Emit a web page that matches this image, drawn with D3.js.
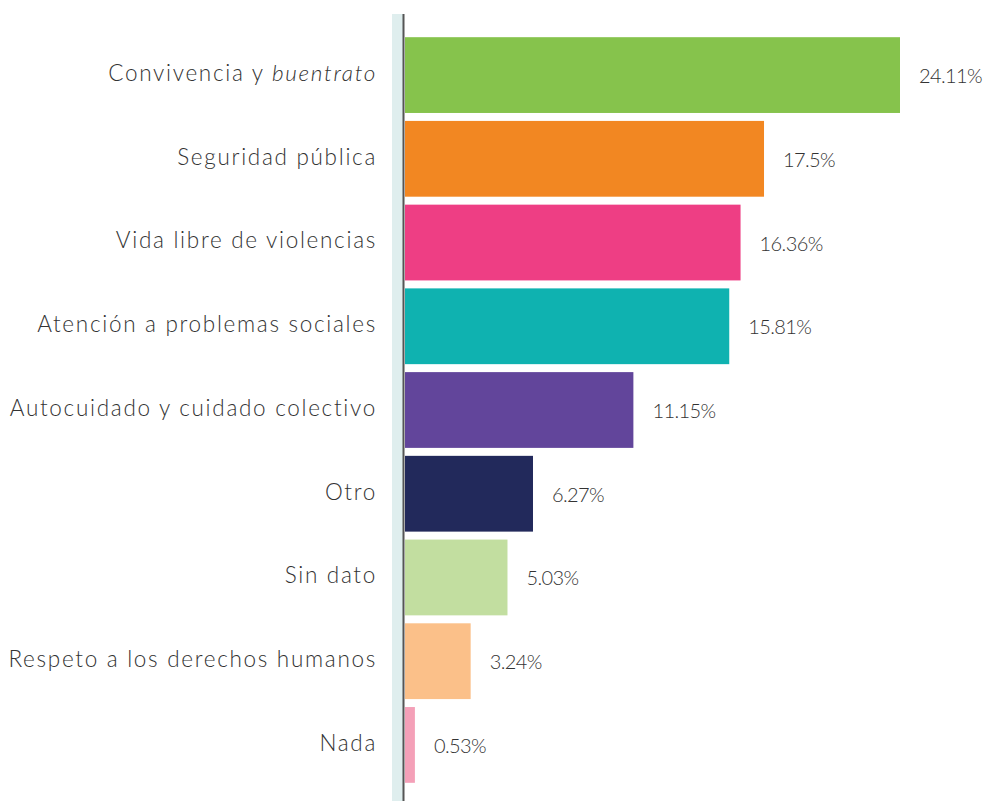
<!DOCTYPE html>
<html>
<head>
<meta charset="utf-8">
<script src="https://cdn.jsdelivr.net/npm/d3@7"></script>
<style>
	body{ margin:0; background:#fff; }
	text{ font-family: Lato, "Open Sans", sans-serif; font-weight:300; fill:#333; }
</style>
</head>
<body>
<svg id="chart" width="991" height="801"></svg>
<script>
var categories = ["Convivencia y buentrato", "Seguridad pública", "Vida libre de violencias", "Atención a problemas sociales", "Autocuidado y cuidado colectivo", "Otro", "Sin dato", "Respeto a los derechos humanos", "Nada"];
var values = [24.11, 17.5, 16.36, 15.81, 11.15, 6.27, 5.03, 3.24, 0.53];
var valueLabels = ["24.11%", "17.5%", "16.36%", "15.81%", "11.15%", "6.27%", "5.03%", "3.24%", "0.53%"];
var colors = ["#86c34c", "#f28722", "#ee3e84", "#0fb2b0", "#62459b", "#22295b", "#c2dea0", "#fbc089", "#f4a0b8"];

var svg = d3.select("#chart");
var margin = {top: 33, left: 404};

var x = d3.scaleLinear().domain([0, 24.11]).range([margin.left, 900]);
var y = d3.scaleBand().domain(categories).range([margin.top, 787]).paddingInner(0.095).paddingOuter(0.05);

// light band left of axis
svg.append("rect")
	.attr("x", 392).attr("y", 14)
	.attr("width", 11).attr("height", 801 - 14)
	.attr("fill", "#dfeeee");

svg.selectAll("rect.bar")
	.data(values)
	.enter().append("rect")
	.attr("class", "bar")
	.attr("x", x(0) + 1)
	.attr("y", function(d, i){ return y(categories[i]); })
	.attr("width", function(d){ return x(d) - x(0) - 1; })
	.attr("height", y.bandwidth())
	.attr("fill", function(d, i){ return colors[i]; });

// axis line
svg.append("line")
	.attr("x1", 403.5).attr("x2", 403.5)
	.attr("y1", 14).attr("y2", 801)
	.attr("stroke", "#555").attr("stroke-width", 2);

// category labels
var labels = svg.selectAll("text.cat")
	.data(categories)
	.enter().append("text")
	.attr("class", "cat")
	.attr("x", 377)
	.attr("y", function(d){ return y(d) + y.bandwidth() / 2 - 2; })
	.attr("dy", "0.35em")
	.attr("text-anchor", "end")
	.style("font-size", "22.5px")
	.style("letter-spacing", "1.7px");

labels.each(function(d){
	var t = d3.select(this);
	if(d === "Convivencia y buentrato"){
		t.append("tspan").text("Convivencia y ");
		t.append("tspan").style("font-style", "italic").text("buentrato");
	}else{
		t.text(d);
	}
});

// value labels
svg.selectAll("text.val")
	.data(values)
	.enter().append("text")
	.attr("class", "val")
	.attr("x", function(d){ return x(d) + 19; })
	.attr("y", function(d, i){ return y(categories[i]) + y.bandwidth() / 2 + 1; })
	.attr("dy", "0.35em")
	.style("font-size", "20px")
	.style("letter-spacing", "-0.6px")
	.text(function(d, i){ return valueLabels[i]; });
</script>
</body>
</html>
